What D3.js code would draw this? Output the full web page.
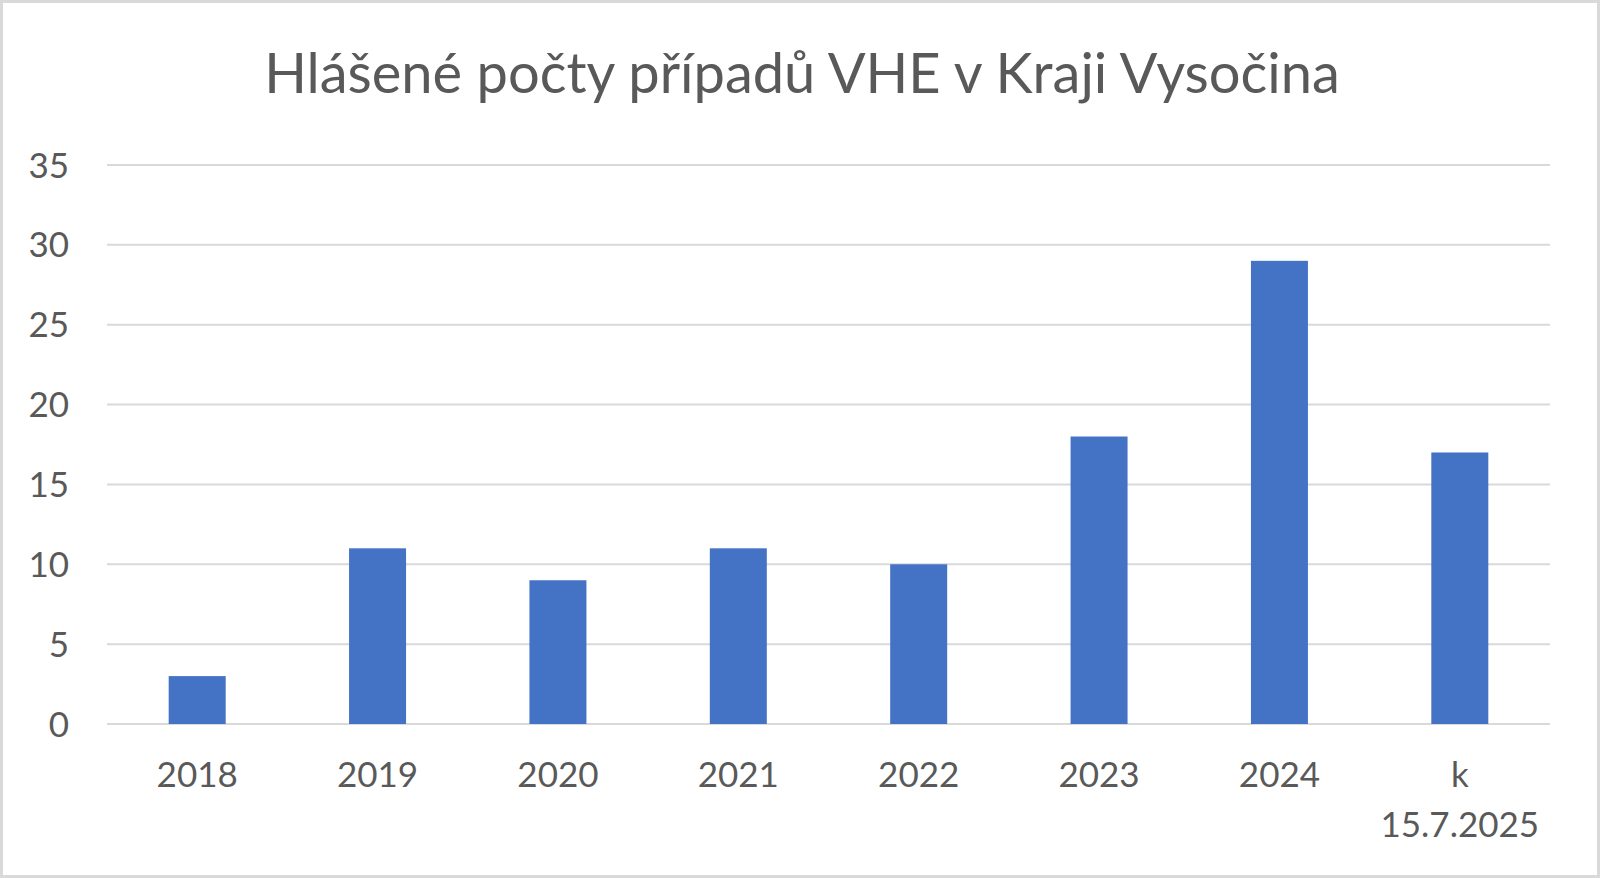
<!DOCTYPE html>
<html><head><meta charset="utf-8">
<script src="https://cdn.jsdelivr.net/npm/d3@7"></script>
<style>html,body{margin:0;padding:0;background:#fff;overflow:hidden}</style>
</head><body>
<svg id="c" width="1600" height="878"></svg>
<script>
const title = "Hlášené počty případů VHE v Kraji Vysočina";
const categories = ["2018","2019","2020","2021","2022","2023","2024","k\n15.7.2025"];
const values = [3, 11, 9, 11, 10, 18, 29, 17];
const yTicks = [0, 5, 10, 15, 20, 25, 30, 35];

const W = 1600, H = 878;
const font = "Lato, 'Open Sans', sans-serif";
const svg = d3.select("#c");
svg.append("rect").attr("x",0).attr("y",0).attr("width",W).attr("height",H).attr("fill","#fff");
svg.append("rect").attr("x",1.5).attr("y",1.5).attr("width",W-3).attr("height",H-3)
  .attr("fill","none").attr("stroke","#d9d9d9").attr("stroke-width",3);

const x = d3.scaleBand().domain(categories).range([107,1550]).padding(0);
const y = d3.scaleLinear().domain([0,35]).range([724,165]);

// gridlines
svg.append("g").selectAll("line").data(yTicks).join("line")
  .attr("x1",107).attr("x2",1550)
  .attr("y1",d=>y(d)).attr("y2",d=>y(d))
  .attr("stroke","#d9d9d9").attr("stroke-width",2);

// bars
const bw = x.bandwidth()*0.316;
svg.append("g").selectAll("rect").data(values).join("rect")
  .attr("x",(d,i)=>x(categories[i])+x.bandwidth()/2-bw/2)
  .attr("width",bw)
  .attr("y",d=>y(d))
  .attr("height",d=>y(0)-y(d))
  .attr("fill","#4472C4");

// y labels
svg.append("g").selectAll("text").data(yTicks).join("text")
  .attr("x",69).attr("y",d=>y(d)+12.5)
  .attr("text-anchor","end")
  .attr("font-family",font).attr("font-size",35)
  .attr("fill","#595959").text(d=>d);

// x labels
const xl = svg.append("g").selectAll("text").data(categories).join("text")
  .attr("text-anchor","middle")
  .attr("font-family",font).attr("font-size",35)
  .attr("fill","#595959");
xl.each(function(d){
  const t = d3.select(this);
  const cx = x(d)+x.bandwidth()/2;
  d.split("\n").forEach((line,j)=>{
    t.append("tspan").attr("x",cx).attr("y",787+j*50).text(line);
  });
});

// title
svg.append("text").attr("x",802).attr("y",93)
  .attr("text-anchor","middle")
  .attr("font-family",font).attr("font-size",56)
  .attr("fill","#595959").text(title);
</script>
</body></html>
